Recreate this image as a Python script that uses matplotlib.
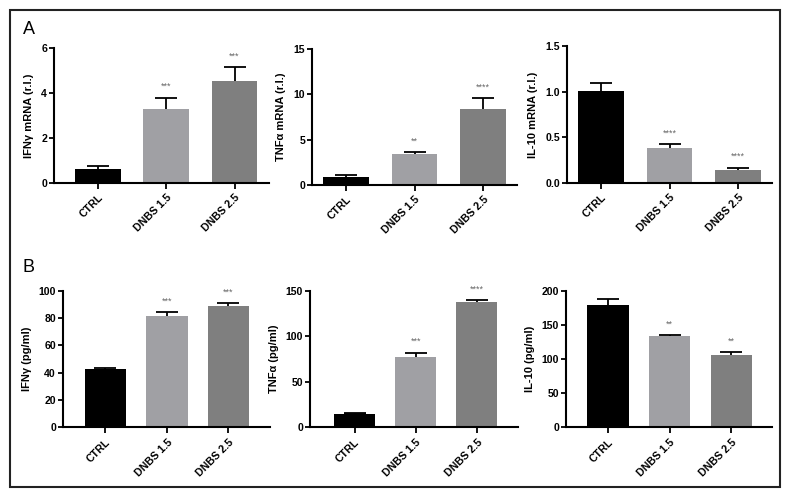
import matplotlib
matplotlib.use("Agg")
import matplotlib.pyplot as plt
from matplotlib.patches import Rectangle

plt.rcParams["font.family"] = ["Liberation Sans", "DejaVu Sans"]
plt.rcParams["font.weight"] = "bold"

groups = ["CTRL", "DNBS 1.5", "DNBS 2.5"]
colors = ["#000000", "#a0a0a4", "#7f7f7f"]

# panel A: mRNA (relative level)
ifng_mrna = [0.63, 3.27, 4.53]
ifng_mrna_err = [0.13, 0.52, 0.61]
tnfa_mrna = [0.92, 3.45, 8.35]
tnfa_mrna_err = [0.16, 0.19, 1.25]
il10_mrna = [1.01, 0.383, 0.139]
il10_mrna_err = [0.08, 0.04, 0.03]

# panel B: protein (pg/ml)
ifng_prot = [42.4, 81.2, 89.0]
ifng_prot_err = [1.0, 2.9, 1.7]
tnfa_prot = [15.0, 77.2, 137.9]
tnfa_prot_err = [0.8, 4.8, 1.5]
il10_prot = [179.0, 133.7, 105.4]
il10_prot_err = [9.0, 0.9, 4.6]

stars_a = [["", "***", "***"], ["", "**", "****"], ["", "****", "****"]]
stars_b = [["", "***", "***"], ["", "***", "****"], ["", "**", "**"]]

W, H = 790, 497
fig = plt.figure(figsize=(W / 100, H / 100), dpi=100)
fig.patch.set_facecolor("white")


def px_rect(x0, x1, ytop, ybot):
    return [x0 / W, 1 - ybot / H, (x1 - x0) / W, (ybot - ytop) / H]


def draw_panel(rect, vals, errs, ylim, yticks, ylabel, xlim, stars, fmt=None):
    ax = fig.add_axes(rect)
    x = list(range(len(groups)))
    # symmetric error bars drawn underneath, so the bar hides the lower half
    ax.errorbar(x, vals, yerr=errs, fmt="none", ecolor="black",
                elinewidth=1.3, capsize=7.8, capthick=1.3, zorder=1)
    ax.bar(x, vals, width=0.67, color=colors, zorder=2)
    tops = [v + e for v, e in zip(vals, errs)]
    for i, s in enumerate(stars):
        if s:
            ax.annotate(s, xy=(i, tops[i]), xytext=(0, 8),
                        textcoords="offset points", ha="center", va="center",
                        fontsize=6.5, color="#666666", fontweight="normal",
                        annotation_clip=False)
    ax.set_xlim(*xlim)
    ax.set_ylim(*ylim)
    ax.set_yticks(yticks)
    if fmt:
        ax.set_yticklabels([fmt.format(t) for t in yticks])
    ax.set_xticks(x)
    ax.set_xticklabels(groups, rotation=45, ha="right", rotation_mode="anchor",
                       fontsize=7.7, fontweight="bold")
    ax.set_ylabel(ylabel, fontsize=8, fontweight="bold", labelpad=5)
    for side in ("top", "right"):
        ax.spines[side].set_visible(False)
    for side in ("left", "bottom"):
        ax.spines[side].set_linewidth(1.5)
        ax.spines[side].set_zorder(3)
    ax.tick_params(axis="y", length=3.5, width=1.3, labelsize=7.6, pad=1.5)
    ax.tick_params(axis="x", length=4, width=1.3, pad=3)
    for lab in ax.get_yticklabels():
        lab.set_fontweight("bold")
    return ax


# row A
draw_panel(px_rect(54, 269, 48, 183), ifng_mrna, ifng_mrna_err, (0, 6),
           [0, 2, 4, 6], "IFNγ mRNA (r.l.)", (-0.645, 2.505), stars_a[0])
draw_panel(px_rect(312, 517, 49, 185), tnfa_mrna, tnfa_mrna_err, (0, 15),
           [0, 5, 10, 15], "TNFα mRNA (r.l.)", (-0.496, 2.496), stars_a[1])
draw_panel(px_rect(567, 772, 46, 183), il10_mrna, il10_mrna_err, (0, 1.5),
           [0, 0.5, 1.0, 1.5], "IL-10 mRNA (r.l.)", (-0.496, 2.496), stars_a[2],
           fmt="{:.1f}")

# row B
draw_panel(px_rect(63, 270, 290.7, 427.3), ifng_prot, ifng_prot_err, (0, 100),
           [0, 20, 40, 60, 80, 100], "IFNγ (pg/ml)", (-0.69, 2.675), stars_b[0])
draw_panel(px_rect(310, 518, 290.7, 427.3), tnfa_prot, tnfa_prot_err, (0, 150),
           [0, 50, 100, 150], "TNFα (pg/ml)", (-0.727, 2.67), stars_b[1])
draw_panel(px_rect(566, 772, 290.7, 427.3), il10_prot, il10_prot_err, (0, 200),
           [0, 50, 100, 150, 200], "IL-10 (pg/ml)", (-0.68, 2.656), stars_b[2])

# outer frame and panel letters
fig.patches.append(Rectangle((10 / W, 1 - 487 / H), 770 / W, 477 / H,
                             transform=fig.transFigure, fill=False,
                             edgecolor="#222222", linewidth=1.5))
fig.text(29 / W, 1 - 30 / H, "A", fontsize=13, fontweight="normal",
         ha="center", va="center")
fig.text(29 / W, 1 - 267 / H, "B", fontsize=13, fontweight="normal",
         ha="center", va="center")

fig.savefig("out.png", dpi=100)
